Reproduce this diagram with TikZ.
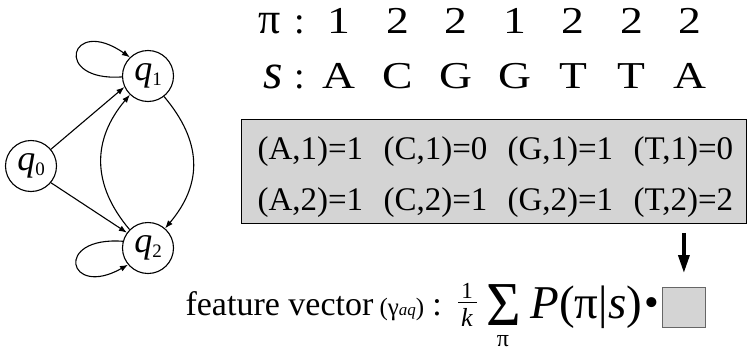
\documentclass[tikz,border=0pt]{standalone}
\usepackage{fontspec}
\setmainfont{Liberation Serif}
\usetikzlibrary{arrows.meta,positioning}
\newcommand\fsz[1]{\fontsize{#1}{#1}\selectfont}
\newcommand\qlab[1]{\textit{q}\raisebox{-5pt}{\fsz{19}#1}}

\begin{document}
\begin{tikzpicture}[x=1pt, y=-1pt, >={Latex[length=8pt,width=6pt]}, line width=1.1pt,
  state/.style={draw, circle, minimum size=51pt, inner sep=0pt, font=\fsz{36}},
  seq/.style={anchor=base, inner sep=0pt, font=\fsz{38}},
  cnt/.style={anchor=base west, inner sep=0pt, font=\fsz{33}},
  dots/.style={fill=black!17, draw=black, line width=0.8pt, inner sep=0pt}]
  \useasboundingbox (0,0) rectangle (752,351);

  % automaton
  \node[state] (q0) at (31,166) {\qlab{0}};
  \node[state] (q1) at (148,76) {\qlab{1}};
  \node[state] (q2) at (148,248) {\qlab{2}};
  \draw[->] (q0.40) -- (q1.205);
  \draw[->] (q0.-40) -- (q2.144);
  \draw[->] (q2.135) .. controls +(-38,-45) and +(-38,45) .. (q1.226);
  \draw[->] (q1.-52) .. controls +(38,45) and +(38,-45) .. (q2.49);
  \draw[->] (q1.182) .. controls +(-70,5) and +(-60,-42) .. (q1.134);
  \draw[->] (q2.165) .. controls +(-70,-5) and +(-60,34) .. (q2.220);

  % path and sequence
  \node[seq, font=\fsz{44}] (pi) at (270,33) {π};
  \node[seq] (pcol) at (300,33) {:};
  \node[seq, font=\fsz{50}\itshape] (s) at (273,88) {s};
  \node[seq] (scol) at (300,88) {:};
  \foreach \d [count=\i from 0] in {1,2,2,1,2,2,2}
    \node[seq] (p\i) at (339+58.5*\i,33) {\scalebox{1.2}[1]{\d}};
  \foreach \ch [count=\i from 0] in {A,C,G,G,T,T,A}
    \node[seq] (a\i) at (339+58.5*\i,88) {\scalebox{1.2}[1]{\ch}};

  % counts
  \node[dots, minimum width=505pt, minimum height=104pt, anchor=north west] (box) at (241,119) {};
  \foreach \ch/\x/\na/\nb in {A/257/1/1, C/383/0/1, G/507/1/1, T/633/0/2} {
    \node[cnt] (e\ch1) at (\x,159) {(\ch,1)=\na};
    \node[cnt] (e\ch2) at (\x,210) {(\ch,2)=\nb};
  }

  % feature vector
  \node[anchor=base west, inner sep=0pt, font=\fsz{34}] (fv) at (185,315) {feature vector};
  \node[anchor=base west, inner sep=0pt, font=\fsz{25}] (gam) at (379,315) {(γ{\fsz{17}\itshape aq})};
  \node[anchor=base, inner sep=0pt, font=\fsz{34}] (fcol) at (437,315) {:};
  \node[anchor=base, inner sep=0pt, font=\fsz{23}] (num) at (467,298) {1};
  \node[anchor=base, inner sep=0pt, font=\fsz{26}\itshape] (den) at (467,326) {k};
  \draw[line width=0.7pt] (458,302) -- (477,302);
  \node[anchor=base west, inner sep=0pt, font=\fsz{44}] (sig) at (486,325) {\scalebox{1.35}[1.42]{Σ}};
  \node[anchor=base, inner sep=0pt, font=\fsz{24}] (spi) at (503,346) {π};
  \node[anchor=base west, inner sep=0pt, font=\fsz{47}] (prob) at (530,318) {\textit{P}(π|\textit{s})};
  \node[inner sep=0pt, font=\fsz{42}] (dot) at (652,307) {•};
  \node[dots, draw=black!60, minimum width=43pt, minimum height=40pt, anchor=north west] (vec) at (662,287) {};
  \draw[-{Triangle[length=18pt,width=11pt]}, line width=3.5pt, shorten <=9pt, shorten >=14pt]
    (box.south -| vec.north) -- (vec.north);
\end{tikzpicture}
\end{document}
